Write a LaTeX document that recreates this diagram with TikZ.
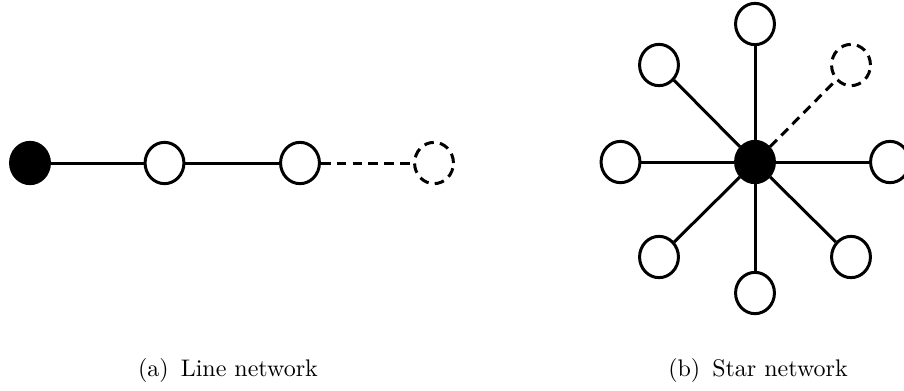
\documentclass[tikz,border=0pt]{standalone}
\usetikzlibrary{shapes.geometric}
\begin{document}
\begin{tikzpicture}[x=0.4167pt,y=-0.4167pt,
  vtx/.style={ellipse,draw=black,line width=1.25pt,minimum width=16.2pt,minimum height=17.2pt,inner sep=0pt,fill=white},
  hub/.style={vtx,fill=black},
  ghost/.style={vtx,dash pattern=on 4pt off 2.6pt},
  edge/.style={line width=1.25pt},
  dedge/.style={line width=1.25pt,dash pattern=on 4pt off 2.6pt},
  captext/.style={font=\normalsize,inner sep=0pt}]
\useasboundingbox (0,0) rectangle (904,390);
% (a) line network
\node[hub] (l0) at (30,163) {};
\node[vtx] (l1) at (164.5,163) {};
\node[vtx] (l2) at (300,163) {};
\node[ghost] (l3) at (434,163) {};
\draw[edge] (l0) -- (l1);
\draw[edge] (l1) -- (l2);
\draw[dedge] (l2) -- (l3);
\node[captext] (ca) at (228,370) {(a)\hspace{0.5em}Line network};
% (b) star network
\node[hub] (c) at (755,162) {};
\node[vtx] (n) at (755,24) {};
\node[vtx] (s) at (755,293) {};
\node[vtx] (w) at (620.5,162) {};
\node[vtx] (e) at (890,162) {};
\node[vtx] (nw) at (659,65) {};
\node[vtx] (sw) at (659,257) {};
\node[vtx] (se) at (851,257) {};
\node[ghost] (ne) at (851,65) {};
\foreach \t in {n,s,w,e,nw,sw,se} \draw[edge] (c) -- (\t);
\draw[dedge] (c) -- (ne);
\node[captext] (cb) at (758,370) {(b)\hspace{0.5em}Star network};
\end{tikzpicture}
\end{document}
